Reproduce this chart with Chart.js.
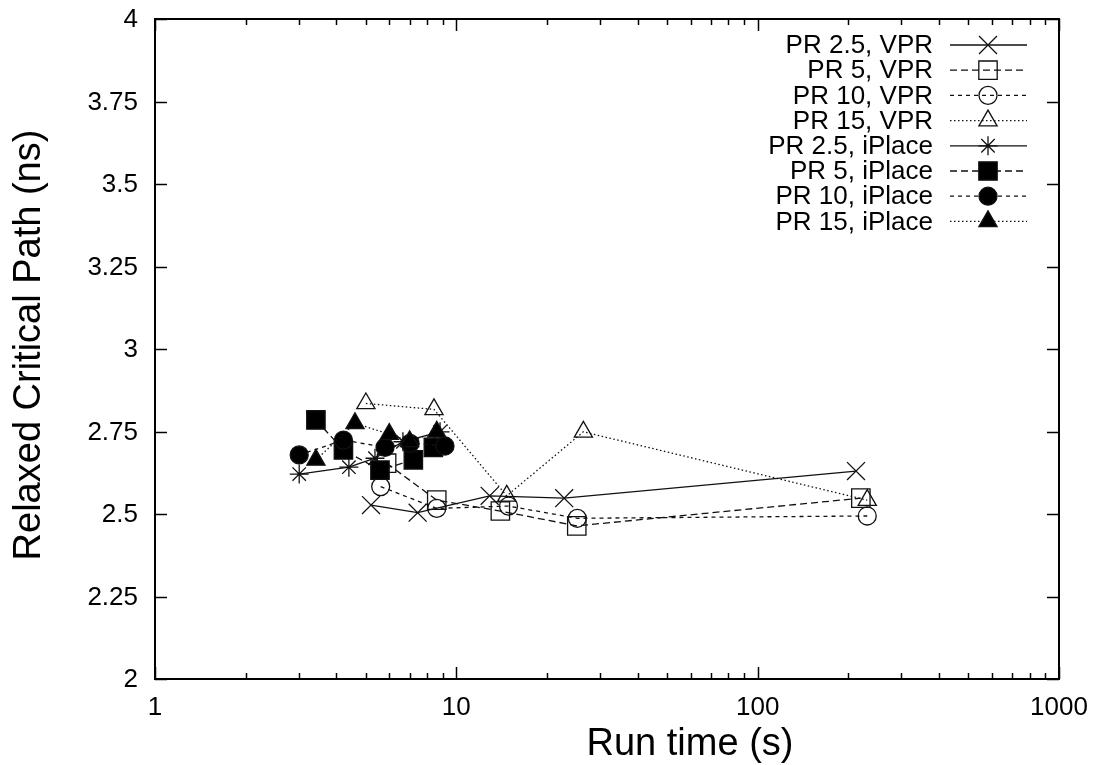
<!DOCTYPE html>
<html>
<head>
<meta charset="utf-8">
<script src="https://cdn.jsdelivr.net/npm/chart.js@4"></script>
<style>
  html, body { margin: 0; padding: 0; background: #fff; }
  #wrap { width: 1096px; height: 765px; }
</style>
</head>
<body>
<div id="wrap"><canvas id="myChart" width="1096" height="765"></canvas></div>
<script>
// run time (s) / relaxed critical path (ns) per placer and PR setting
var pr25vprX = [5.21, 7.44, 12.9, 22.8, 212];
var pr25vprY = [2.527, 2.504, 2.555, 2.548, 2.630];
var pr5vprX = [5.87, 8.61, 14.0, 25.1, 220];
var pr5vprY = [2.654, 2.542, 2.509, 2.464, 2.548];
var pr10vprX = [5.61, 8.61, 14.9, 25.2, 231];
var pr10vprY = [2.583, 2.517, 2.524, 2.487, 2.494];
var pr15vprX = [5.01, 8.43, 14.7, 26.4, 231];
var pr15vprY = [2.835, 2.817, 2.555, 2.749, 2.542];
var pr25ipX = [3.01, 4.40, 5.37, 6.65, 8.83];
var pr25ipY = [2.621, 2.642, 2.669, 2.719, 2.749];
var pr5ipX = [3.42, 4.22, 5.58, 7.20, 8.39];
var pr5ipY = [2.785, 2.694, 2.633, 2.664, 2.702];
var pr10ipX = [3.01, 4.22, 5.80, 7.02, 9.17];
var pr10ipY = [2.679, 2.724, 2.702, 2.714, 2.706];
var pr15ipX = [3.42, 4.61, 5.99, 7.00, 8.61];
var pr15ipY = [2.664, 2.775, 2.742, 2.720, 2.749];

var seriesNames = ['PR 2.5, VPR', 'PR 5, VPR', 'PR 10, VPR', 'PR 15, VPR',
                   'PR 2.5, iPlace', 'PR 5, iPlace', 'PR 10, iPlace', 'PR 15, iPlace'];

var xTicks = [1, 10, 100, 1000];
var xTickLabels = ['1', '10', '100', '1000'];
var yTicks = [2, 2.25, 2.5, 2.75, 3, 3.25, 3.5, 3.75, 4];
var yTickLabels = ['2', '2.25', '2.5', '2.75', '3', '3.25', '3.5', '3.75', '4'];

function pts(xs, ys) {
  return xs.map(function (x, i) { return { x: x, y: ys[i] }; });
}

// line + marker look of each series
var styles = [
  { dash: [],        point: 'crossRot', r: 12.7, fill: false },
  { dash: [7, 4],    point: 'rect',     r: 13,   fill: false },
  { dash: [4, 4],    point: 'circle',   r: 9,    fill: false },
  { dash: [1.5, 2.5],point: 'triangle', r: 10.5, fill: false },
  { dash: [],        point: 'star',     r: 9.5,  fill: false },
  { dash: [7, 4],    point: 'rect',     r: 13,   fill: true },
  { dash: [4, 4],    point: 'circle',   r: 9,    fill: true },
  { dash: [1.5, 2.5],point: 'triangle', r: 10.5, fill: true }
];

var allData = [
  pts(pr25vprX, pr25vprY), pts(pr5vprX, pr5vprY), pts(pr10vprX, pr10vprY), pts(pr15vprX, pr15vprY),
  pts(pr25ipX, pr25ipY), pts(pr5ipX, pr5ipY), pts(pr10ipX, pr10ipY), pts(pr15ipX, pr15ipY)
];

var datasets = allData.map(function (d, i) {
  var s = styles[i];
  return {
    label: seriesNames[i],
    data: d,
    showLine: true,
    tension: 0,
    borderColor: '#111',
    borderWidth: 1.3,
    borderDash: s.dash,
    pointStyle: s.point,
    pointRadius: s.r,
    pointHoverRadius: s.r,
    pointBorderWidth: 1.3,
    pointBorderColor: '#111',
    pointBackgroundColor: s.fill ? '#000' : 'rgba(0,0,0,0)',
    order: 8 - i
  };
});

var FONT = '"Liberation Sans", Arial, sans-serif';

// gnuplot-like frame with inward ticks on all sides
var framePlugin = {
  id: 'frame',
  beforeDatasetsDraw: function (chart) {
    var ctx = chart.ctx, a = chart.chartArea, x = chart.scales.x, y = chart.scales.y;
    ctx.save();
    ctx.strokeStyle = '#000';
    ctx.lineWidth = 1.5;
    function seg(x1, y1, x2, y2) { ctx.beginPath(); ctx.moveTo(x1, y1); ctx.lineTo(x2, y2); ctx.stroke(); }
    yTicks.forEach(function (v) {
      var py = Math.round(y.getPixelForValue(v)) + 0.5;
      seg(a.left, py, a.left + 12, py);
      seg(a.right, py, a.right - 12, py);
    });
    xTicks.forEach(function (v, k) {
      var px = Math.round(x.getPixelForValue(v)) + 0.5;
      seg(px, a.bottom, px, a.bottom - 12);
      seg(px, a.top, px, a.top + 12);
      if (k < xTicks.length - 1) {
        for (var m = 2; m <= 9; m++) {
          var mx = Math.round(x.getPixelForValue(v * m)) + 0.5;
          seg(mx, a.bottom, mx, a.bottom - 6);
          seg(mx, a.top, mx, a.top + 6);
        }
      }
    });
    ctx.lineWidth = 2;
    ctx.strokeRect(a.left, a.top, a.right - a.left, a.bottom - a.top);
    ctx.restore();
  },
  afterDraw: function (chart) {
    var ctx = chart.ctx, a = chart.chartArea, x = chart.scales.x, y = chart.scales.y;
    ctx.save();
    ctx.fillStyle = '#000';
    ctx.font = '26px ' + FONT;
    ctx.textAlign = 'right';
    ctx.textBaseline = 'middle';
    yTicks.forEach(function (v, k) {
      ctx.fillText(yTickLabels[k], a.left - 17, y.getPixelForValue(v) + 1);
    });
    ctx.textAlign = 'center';
    xTicks.forEach(function (v, k) {
      ctx.fillText(xTickLabels[k], x.getPixelForValue(v), a.bottom + 29);
    });

    // axis titles
    ctx.font = '38px ' + FONT;
    ctx.fillText('Run time (s)', 690, 745);
    ctx.save();
    ctx.translate(30, 345);
    ctx.rotate(-Math.PI / 2);
    ctx.fillText('Relaxed Critical Path (ns)', 0, 0);
    ctx.restore();

    // key, top right
    ctx.font = '26px ' + FONT;
    ctx.textAlign = 'right';
    chart.data.datasets.forEach(function (ds, i) {
      var ry = 45 + i * 25.2;
      ctx.fillStyle = '#000';
      ctx.fillText(ds.label, 933, ry + 1);
      ctx.save();
      ctx.strokeStyle = '#111';
      ctx.lineWidth = 1.3;
      ctx.setLineDash(ds.borderDash);
      ctx.beginPath(); ctx.moveTo(950, ry); ctx.lineTo(1027, ry); ctx.stroke();
      ctx.setLineDash([]);
      ctx.fillStyle = ds.pointBackgroundColor;
      ctx.strokeStyle = '#111';
      Chart.helpers.drawPoint(ctx, {
        pointStyle: ds.pointStyle, radius: ds.pointRadius, rotation: 0, borderWidth: 1.3
      }, 988, ry);
      ctx.restore();
    });
    ctx.restore();
  }
};

var ctx = document.getElementById('myChart').getContext('2d');
var myChart = new Chart(ctx, {
  type: 'scatter',
  data: { datasets: datasets },
  options: {
    responsive: false,
    animation: false,
    devicePixelRatio: 1,
    layout: { padding: { left: 155, top: 19, right: 37, bottom: 86 } },
    plugins: { legend: { display: false }, tooltip: { enabled: false } },
    scales: {
      x: { type: 'logarithmic', min: 1, max: 1000, display: false },
      y: { type: 'linear', min: 2, max: 4, display: false }
    }
  },
  plugins: [framePlugin]
});
</script>
</body>
</html>
